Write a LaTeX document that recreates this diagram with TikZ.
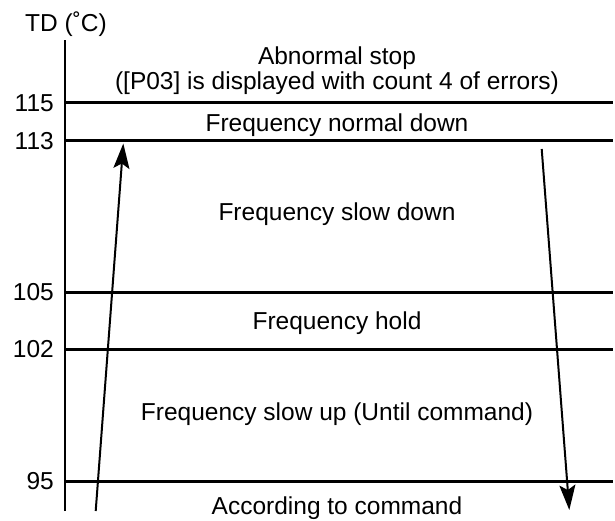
\documentclass[tikz,border=0pt]{standalone}
\usepackage{fontspec}
\setmainfont{Liberation Sans}
\usetikzlibrary{arrows.meta}
\begin{document}
\begin{tikzpicture}[x=1pt, y=-1pt,
    level/.style={line width=3pt},
    zone/.style={font=\fontsize{24.5}{26}\selectfont, align=center, inner sep=0pt},
    tick/.style={anchor=east, inner sep=0pt, font=\fontsize{24.5}{26}\selectfont},
    trend/.style={line width=2pt, -{Stealth[length=25pt, width=16pt, inset=5pt]}}]
    \useasboundingbox (0,0) rectangle (615,521);

    % axis
    \coordinate (ax0) at (65,511);
    \coordinate (ax1) at (65,40);
    \draw[line width=2.6pt] (ax0) -- (ax1);
    \node[anchor=base west, inner sep=0pt, font=\fontsize{24.5}{26}\selectfont] (td) at (25,32) {TD (˚C)};

    % threshold lines
    \foreach \val/\y in {115/103, 113/141, 105/292, 102/349, 95/481} {
        \draw[level] (65,\y) -- (613,\y);
        \node[tick] (t\val) at (54,\y) {\val};
    }

    % zones
    \node[zone, anchor=base] (stop) at (337,65) {Abnormal stop};
    \node[zone, anchor=base] (stopnote) at (337,90) {([P03] is displayed with count 4 of errors)};
    \node[zone, anchor=base] (normdown) at (337,131.5) {Frequency normal down};
    \node[zone] (slowdown) at (337,214) {Frequency slow down};
    \node[zone] (hold) at (337,323) {Frequency hold};
    \node[zone] (slowup) at (337,414) {Frequency slow up (Until command)};
    \node[zone] (command) at (337,508) {According to command};

    % rising / falling
    \coordinate (rise0) at (95.7,511);
    \coordinate (rise1) at (123.3,143.5);
    \coordinate (fall0) at (541.7,149);
    \coordinate (fall1) at (569.3,510);
    \draw[trend] (rise0) -- (rise1);
    \draw[trend] (fall0) -- (fall1);
\end{tikzpicture}
\end{document}
